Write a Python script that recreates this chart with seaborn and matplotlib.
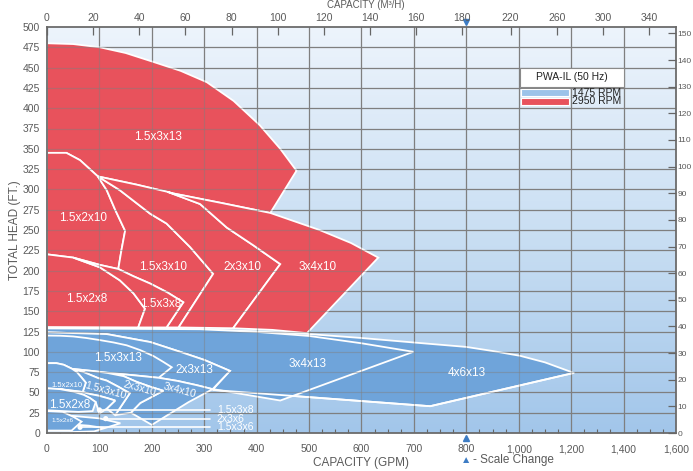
import numpy as np
import matplotlib
matplotlib.use("Agg")
import matplotlib.pyplot as plt
import matplotlib.transforms as mtransforms
from matplotlib.colors import LinearSegmentedColormap
import seaborn as sns

# ---------------- axis definitions ----------------
gpm_ticks = [0, 100, 200, 300, 400, 500, 600, 700, 800, 1000, 1200, 1400, 1600]
gpm_labels = ["0", "100", "200", "300", "400", "500", "600", "700", "800",
              "1,000", "1,200", "1,400", "1,600"]
head_ticks = list(range(0, 501, 25))
m3h_ticks = [0, 20, 40, 60, 80, 100, 120, 140, 160, 180, 220, 260, 300, 340]
meter_ticks = list(range(0, 151, 10))
scale_change_gpm = 800
GPM_PER_M3H = 4.403
FT_PER_M = 3.2808

# ---------------- 2950 RPM coverage (GPM, ft) ----------------
r_1_5x3x13 = [(0, 480), (50, 479), (101, 475), (150, 468), (203, 457), (255, 446),
              (305, 432), (356, 409), (406, 379), (445, 350), (476, 323), (426, 271),
              (335, 283), (241, 295), (170, 306), (97, 316), (63, 336), (37, 345), (0, 345)]
r_1_5x2x10 = [(0, 345), (37, 345), (63, 336), (97, 316), (114, 299), (130, 275),
              (149, 249), (142, 225), (136, 202), (101, 207), (50, 216), (0, 220)]
r_1_5x3x10 = [(97, 316), (114, 299), (130, 275), (149, 249), (142, 225), (136, 202),
              (165, 193), (197, 184), (230, 173), (260, 161), (228, 130), (251, 130),
              (317, 196), (273, 229), (228, 258), (197, 270), (139, 299)]
r_2x3x10 = [(97, 316), (170, 306), (230, 297), (292, 282), (343, 253), (394, 231),
            (445, 208), (355, 129), (251, 130), (317, 196), (273, 229), (228, 258),
            (197, 270), (139, 299)]
r_3x4x10 = [(230, 297), (241, 295), (335, 283), (426, 271), (520, 250), (580, 234),
            (632, 216), (496, 123), (430, 127), (355, 129), (445, 208), (394, 231),
            (343, 253), (292, 282)]
r_1_5x2x8 = [(0, 220), (50, 216), (101, 204), (139, 188), (165, 172), (187, 153),
             (174, 130), (0, 130.5)]
r_1_5x3x8 = [(50, 216), (101, 207), (136, 202), (165, 193), (197, 184), (230, 173),
             (260, 161), (228, 130), (174, 130), (187, 153), (165, 172), (139, 188),
             (101, 204)]

red_regions = [r_1_5x3x13, r_1_5x2x10, r_1_5x3x10, r_2x3x10, r_3x4x10, r_1_5x2x8, r_1_5x3x8]
red_names = ["1.5x3x13", "1.5x2x10", "1.5x3x10", "2x3x10", "3x4x10", "1.5x2x8", "1.5x3x8"]
red_label_q = [212, 68, 222, 373, 516, 76, 216]
red_label_h = [364, 265, 205, 205, 205, 165, 159]

# ---------------- 1475 RPM coverage (GPM, ft) ----------------
b_4x6x13 = [(0, 128.8), (150, 128.3), (292, 127.8), (400, 125), (496, 122), (600, 117),
            (699, 111.5), (800, 106), (900, 101), (1006, 95), (1100, 87), (1210, 74),
            (731, 33), (317, 53), (349, 76.5), (300, 90), (254, 100), (197, 112),
            (114, 121.8), (0, 124)]
b_3x4x13 = [(0, 128.8), (150, 128.3), (292, 127.8), (400, 124.5), (500, 119.5),
            (600, 110.5), (699, 100), (445, 40), (317, 54), (349, 76.5), (300, 90),
            (254, 100), (197, 112), (114, 121.8), (0, 124)]
b_2x3x13 = [(0, 124), (114, 121.8), (197, 112), (254, 100), (300, 90), (349, 76.5),
            (316, 54), (285, 59), (250, 64), (213, 68), (167, 71), (120, 74), (85, 76.5),
            (48, 79), (32, 84), (18, 86), (0, 86)]
b_1_5x3x13 = [(0, 120), (25, 119.8), (50, 118.9), (75, 117), (101, 114.4), (127, 111.5),
              (152, 108), (178, 102), (203, 94.8), (222, 87.5), (238, 81), (213, 68),
              (167, 71), (120, 74), (85, 76.5), (48, 79), (32, 84), (18, 86), (0, 86)]
b_3x4x10 = [(115, 74), (167, 71), (213, 68), (250, 64), (285, 59), (316, 54),
            (270, 38), (235, 24), (200, 10), (160, 25), (178, 37), (222, 52),
            (197, 57), (171, 63), (146, 70)]
b_2x3x10 = [(48, 79), (85, 76.5), (115, 74), (146, 70), (171, 63), (197, 57), (222, 52),
            (178, 37), (160, 25), (130, 22), (158, 49), (136, 57), (114, 64.5),
            (98, 67.5), (70, 75)]
b_1_5x3x10 = [(48, 79), (57, 75), (65, 69), (74, 62), (71, 56), (68, 50.5), (82, 48),
              (98, 46), (115, 43), (130, 40), (114, 30), (130, 22), (158, 49),
              (136, 57), (114, 64.5), (98, 67.5), (70, 75)]
b_1_5x2x10 = [(0, 86), (18, 86), (32, 84), (48, 79), (57, 75), (65, 69), (74, 62),
              (71, 56), (68, 50.5), (50, 52), (25, 54), (0, 55)]
b_1_5x3x8 = [(25, 54), (50, 52), (68, 50.5), (82, 48), (98, 46), (115, 43), (130, 40),
             (114, 30), (100, 24), (93, 38), (82, 43), (70, 47), (50, 51)]
b_1_5x2x8 = [(0, 55), (25, 54), (50, 51), (70, 47), (82, 43), (93, 38), (87, 27),
             (60, 26), (30, 27), (0, 28)]
b_1_5x3x6 = [(0, 12), (40, 11), (80, 9), (110, 6), (90, 2), (40, 1), (0, 1)]
b_2x3x6 = [(0, 22), (50, 21), (100, 18), (140, 12), (110, 6), (80, 9), (40, 11), (0, 12)]
b_1_5x2x6 = [(0, 27), (30, 26), (50, 20), (66, 14), (47, 3), (0, 3)]

blue_regions = [b_4x6x13, b_3x4x13, b_2x3x13, b_1_5x3x13, b_3x4x10, b_2x3x10,
                b_1_5x3x10, b_1_5x2x10, b_1_5x3x8, b_1_5x2x8, b_1_5x3x6, b_2x3x6, b_1_5x2x6]

blue_names = ["4x6x13", "3x4x13", "2x3x13", "1.5x3x13", "1.5x2x10", "1.5x3x10",
              "2x3x10", "3x4x10", "1.5x2x8", "1.5x2x6"]
blue_label_q = [801, 497, 282, 135, 38, 111, 177, 254, 44, 30]
blue_label_h = [74.5, 84.8, 77.8, 92.6, 59, 52, 55, 52.7, 35, 14.8]
blue_label_size = [8.5, 8.5, 8.5, 8.5, 5.5, 7.5, 7.5, 7.5, 8.5, 4.5]
blue_label_rot = [0, 0, 0, 0, 0, -15, -15, -15, 0, 0]

# leader-labelled small models
leader_names = ["1.5x3x8", "2x3x6", "1.5x3x6"]
leader_dot_q = [100, 112, 63]
leader_h = [28.4, 17.7, 7.0]
leader_end_q = 311
leader_text_q = 324

RED = "#e8525c"
BLUE = "#6fa4da"
GRID = "#7f7f7f"
TXT = "#5a5a5a"


def fwd(q):
    q = np.asarray(q, dtype=float)
    return np.where(q <= scale_change_gpm, q, scale_change_gpm + (q - scale_change_gpm) / 2.0)


def inv(x):
    x = np.asarray(x, dtype=float)
    return np.where(x <= scale_change_gpm, x, scale_change_gpm + (x - scale_change_gpm) * 2.0)


sns.set_theme(style="white")
plt.rcParams["font.family"] = ["Liberation Sans", "DejaVu Sans"]

fig = plt.figure(figsize=(6.93, 4.71), dpi=100)
ax = fig.add_axes([47 / 693, 1 - 433 / 471, 629 / 693, 406 / 471])
ax.set_xscale("function", functions=(fwd, inv))
ax.set_xlim(0, 1600)
ax.set_ylim(0, 500)

# vertical gradient background
grad = LinearSegmentedColormap.from_list("bg", ["#a2c6ea", "#cadff3", "#edf4fc"])
ax.imshow(np.linspace(0, 1, 256).reshape(-1, 1), cmap=grad, aspect="auto",
          extent=[0, 1, 0, 1], transform=ax.transAxes, origin="lower", zorder=0)


def draw_grid(z, alpha):
    for t in gpm_ticks[1:-1]:
        ax.axvline(t, color=GRID, lw=0.85, alpha=alpha, zorder=z)
    for t in head_ticks[1:-1]:
        ax.axhline(t, color=GRID, lw=0.85, alpha=alpha, zorder=z)


draw_grid(1, 1.0)

z = 2.0
for reg in blue_regions:
    q, h = zip(*reg)
    ax.fill(q, h, facecolor=BLUE, edgecolor="white", lw=1.3, zorder=z, joinstyle="miter")
    z += 0.01
# the 4x6x13 lower edge runs across the 3x4x13 area
q, h = zip(*b_4x6x13[11:14])
ax.plot(q, h, color="white", lw=1.3, zorder=z)
z += 0.01
for reg in red_regions:
    q, h = zip(*reg)
    ax.fill(q, h, facecolor=RED, edgecolor="white", lw=1.3, zorder=z, joinstyle="miter")
    z += 0.01

# grid shows faintly through the filled areas
draw_grid(3, 0.45)

for name, q, h in zip(red_names, red_label_q, red_label_h):
    ax.text(q, h, name, color="white", fontsize=8.5, ha="center", va="center", zorder=5)
for name, q, h, s, r in zip(blue_names, blue_label_q, blue_label_h, blue_label_size, blue_label_rot):
    ax.text(q, h, name, color="white", fontsize=s, ha="center", va="center",
            rotation=r, zorder=5)

for name, q0, h in zip(leader_names, leader_dot_q, leader_h):
    ax.plot([q0, leader_end_q], [h, h], color="white", lw=1.2, zorder=5)
    ax.text(leader_text_q, h, name, color="white", fontsize=7.5, ha="left", va="center", zorder=5)
sns.scatterplot(x=leader_dot_q, y=leader_h, color="white", s=14, edgecolor="none",
                ax=ax, zorder=6, legend=False)

# axes styling
for sp in ax.spines.values():
    sp.set_color("#6b6b6b")
    sp.set_linewidth(1.3)
    sp.set_zorder(7)
ax.set_xticks(gpm_ticks)
ax.set_xticklabels(gpm_labels)
minor = [t for t in range(25, 800, 25) if t % 100] + [t for t in range(850, 1600, 50) if t % 200]
ax.set_xticks(minor, minor=True)
ax.set_yticks(head_ticks)
ax.tick_params(axis="x", which="major", length=0, pad=8, labelsize=7.5, labelcolor=TXT)
ax.tick_params(axis="x", which="minor", direction="in", length=3, width=0.8, color="#666666",
               bottom=True)
ax.tick_params(axis="y", length=0, pad=5, labelsize=7.5, labelcolor=TXT)
ax.set_xlabel("CAPACITY (GPM)", fontsize=8.5, color=TXT, labelpad=2)
ax.set_ylabel("TOTAL HEAD (FT.)", fontsize=8.5, color=TXT, labelpad=1)
ax.grid(False)

# top axis in m3/h
axt = ax.twiny()
axt.set_xscale("function", functions=(fwd, inv))
axt.set_xlim(0, 1600)
axt.set_xticks([m * GPM_PER_M3H for m in m3h_ticks])
axt.set_xticklabels([str(m) for m in m3h_ticks])
axt.tick_params(axis="x", direction="in", length=6, width=0.9, color="#666666",
                labelsize=7.5, labelcolor=TXT, pad=3)
axt.grid(False)
for sp in axt.spines.values():
    sp.set_visible(False)
fig.text(366 / 693, 1 - 5 / 471, "CAPACITY (M\u00b3/H)", fontsize=7, color=TXT,
         ha="center", va="center")

# right axis in metres
axr = ax.twinx()
axr.set_ylim(0, 500 / FT_PER_M)
axr.set_yticks(meter_ticks)
axr.set_yticklabels([str(m) for m in meter_ticks])
axr.tick_params(axis="y", direction="in", length=6, width=0.9, color="#666666",
                labelsize=6, labelcolor=TXT, pad=1)
axr.grid(False)
for sp in axr.spines.values():
    sp.set_visible(False)

# scale change markers
trans = mtransforms.blended_transform_factory(ax.transData, ax.transAxes)
ax.plot([scale_change_gpm], [-0.013], marker="^", ms=5, color="#3d7cc4", transform=trans,
        clip_on=False, zorder=8)
ax.plot([scale_change_gpm], [1.013], marker="v", ms=5, color="#3d7cc4", transform=trans,
        clip_on=False, zorder=8)
ax.text(scale_change_gpm, -0.066, "\u25b2", color="#3d7cc4", fontsize=7.5, ha="center",
        va="center", transform=trans)
ax.annotate("- Scale Change", xy=(scale_change_gpm, -0.066), xycoords=trans,
            xytext=(5, 0), textcoords="offset points", fontsize=8.5, color=TXT,
            ha="left", va="center")

# legend block
fig.patches.append(plt.Rectangle((520 / 693, 1 - 87 / 471), 104 / 693, 19 / 471, fc="white",
                                 ec="#8a8a8a", lw=0.8, transform=fig.transFigure, zorder=9))
fig.text(572 / 693, 1 - 77.5 / 471, "PWA-IL (50 Hz)", fontsize=7.5, color="#222222",
         ha="center", va="center", zorder=10)
for i, (col, lab) in enumerate([("#9cc3e9", "1475 RPM"), (RED, "2950 RPM")]):
    y0 = 1 - (96 + 8.5 * i) / 471
    fig.patches.append(plt.Rectangle((521 / 693, y0), 48 / 693, 7 / 471, fc=col, ec="white",
                                     lw=0.8, transform=fig.transFigure, zorder=9))
    fig.text(572 / 693, y0 + 3.5 / 471, lab, fontsize=7.5, color="#222222", ha="left",
             va="center", zorder=9)

fig.savefig("out.png", dpi=100)
